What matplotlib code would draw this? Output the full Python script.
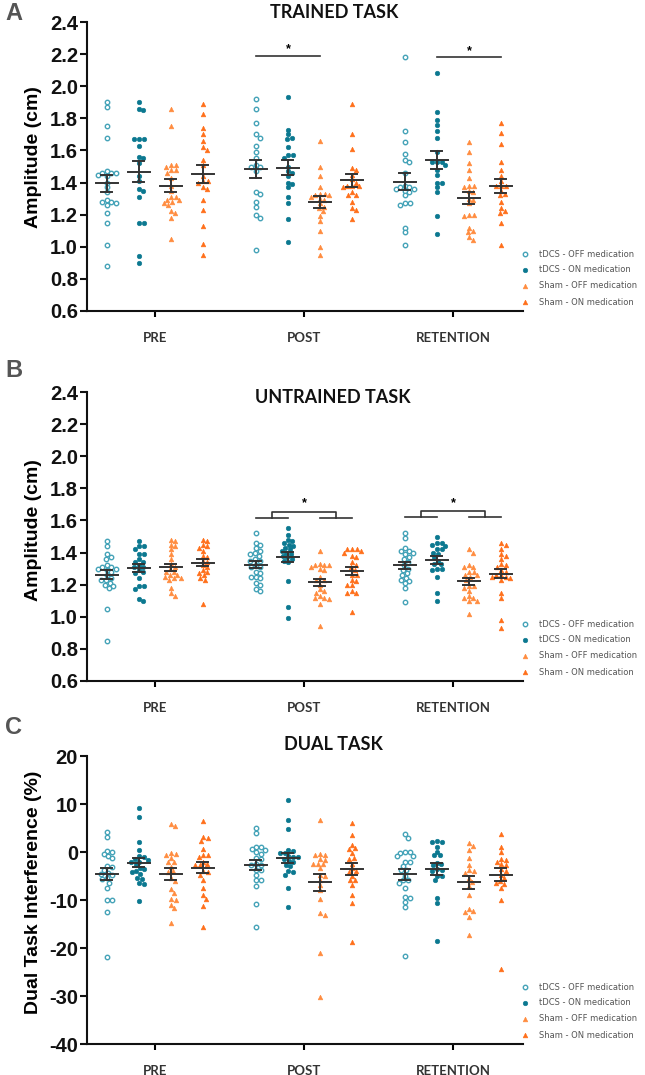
import numpy as np
import matplotlib
matplotlib.use("Agg")
import matplotlib.pyplot as plt

plt.rcParams['font.family'] = ['Liberation Sans', 'DejaVu Sans']

# groups / time points
groups = ['tDCS - OFF medication', 'tDCS - ON medication',
          'Sham - OFF medication', 'Sham - ON medication']
times = ['PRE', 'POST', 'RETENTION']

# A: trained task amplitude (cm), order: tDCS OFF, tDCS ON, Sham OFF, Sham ON
trained_pre = [
    [1.90, 1.87, 1.75, 1.68, 1.47, 1.46, 1.46, 1.46, 1.45, 1.44, 1.40, 1.37, 1.34, 1.29, 1.28, 1.28, 1.27, 1.26, 1.21, 1.15, 1.01, 0.88],
    [1.90, 1.86, 1.85, 1.67, 1.67, 1.67, 1.63, 1.56, 1.55, 1.52, 1.44, 1.41, 1.36, 1.35, 1.31, 1.15, 1.15, 0.94, 0.90],
    [1.86, 1.75, 1.51, 1.51, 1.50, 1.48, 1.48, 1.46, 1.43, 1.38, 1.35, 1.31, 1.31, 1.29, 1.29, 1.28, 1.27, 1.26, 1.22, 1.21, 1.18, 1.05],
    [1.89, 1.83, 1.74, 1.70, 1.66, 1.62, 1.60, 1.54, 1.51, 1.44, 1.41, 1.41, 1.40, 1.37, 1.36, 1.29, 1.23, 1.13, 1.02, 0.95],
]
trained_post = [
    [1.92, 1.86, 1.77, 1.70, 1.68, 1.63, 1.59, 1.55, 1.51, 1.50, 1.50, 1.47, 1.34, 1.33, 1.28, 1.25, 1.20, 1.18, 0.98],
    [1.93, 1.73, 1.70, 1.68, 1.67, 1.62, 1.57, 1.57, 1.55, 1.50, 1.47, 1.46, 1.44, 1.40, 1.39, 1.37, 1.31, 1.27, 1.17, 1.03],
    [1.66, 1.50, 1.44, 1.37, 1.33, 1.33, 1.32, 1.32, 1.31, 1.30, 1.29, 1.27, 1.25, 1.24, 1.22, 1.19, 1.16, 1.10, 1.00, 0.95],
    [1.89, 1.70, 1.61, 1.49, 1.48, 1.45, 1.42, 1.40, 1.38, 1.38, 1.38, 1.37, 1.34, 1.32, 1.32, 1.28, 1.24, 1.23, 1.17],
]
trained_ret = [
    [2.18, 1.72, 1.65, 1.58, 1.54, 1.53, 1.46, 1.38, 1.37, 1.37, 1.36, 1.36, 1.35, 1.34, 1.32, 1.27, 1.27, 1.26, 1.12, 1.09, 1.01],
    [2.08, 1.84, 1.79, 1.76, 1.72, 1.68, 1.59, 1.53, 1.53, 1.53, 1.51, 1.48, 1.45, 1.40, 1.40, 1.37, 1.34, 1.19, 1.08],
    [1.65, 1.59, 1.52, 1.48, 1.43, 1.38, 1.38, 1.37, 1.35, 1.34, 1.30, 1.29, 1.27, 1.20, 1.20, 1.19, 1.12, 1.10, 1.09, 1.06, 1.04],
    [1.77, 1.71, 1.64, 1.53, 1.48, 1.44, 1.41, 1.38, 1.38, 1.38, 1.35, 1.33, 1.32, 1.28, 1.24, 1.22, 1.21, 1.15, 1.01],
]

# B: untrained task amplitude (cm)
untrained_pre = [
    [1.47, 1.44, 1.39, 1.37, 1.36, 1.32, 1.31, 1.31, 1.30, 1.30, 1.29, 1.28, 1.26, 1.24, 1.23, 1.23, 1.21, 1.20, 1.19, 1.18, 1.05, 0.85],
    [1.47, 1.44, 1.44, 1.42, 1.39, 1.39, 1.36, 1.34, 1.34, 1.32, 1.31, 1.31, 1.29, 1.28, 1.27, 1.24, 1.19, 1.19, 1.17, 1.11, 1.10],
    [1.48, 1.47, 1.45, 1.44, 1.42, 1.39, 1.36, 1.33, 1.31, 1.30, 1.28, 1.28, 1.26, 1.26, 1.25, 1.24, 1.24, 1.23, 1.18, 1.15, 1.13],
    [1.48, 1.47, 1.45, 1.44, 1.43, 1.41, 1.38, 1.37, 1.35, 1.34, 1.32, 1.31, 1.29, 1.28, 1.27, 1.26, 1.24, 1.23, 1.08],
]
untrained_post = [
    [1.52, 1.46, 1.45, 1.43, 1.41, 1.40, 1.39, 1.38, 1.36, 1.35, 1.35, 1.32, 1.31, 1.31, 1.28, 1.27, 1.25, 1.25, 1.24, 1.21, 1.20, 1.17, 1.16],
    [1.55, 1.51, 1.48, 1.47, 1.46, 1.45, 1.44, 1.43, 1.42, 1.41, 1.40, 1.39, 1.38, 1.37, 1.36, 1.35, 1.34, 1.22, 1.06, 0.99],
    [1.41, 1.33, 1.32, 1.32, 1.32, 1.31, 1.30, 1.29, 1.25, 1.23, 1.23, 1.20, 1.17, 1.16, 1.15, 1.13, 1.12, 1.11, 1.12, 1.08, 0.94],
    [1.42, 1.42, 1.42, 1.41, 1.40, 1.38, 1.37, 1.34, 1.32, 1.31, 1.29, 1.26, 1.26, 1.23, 1.22, 1.20, 1.20, 1.16, 1.15, 1.15, 1.03],
]
untrained_ret = [
    [1.52, 1.49, 1.43, 1.41, 1.41, 1.40, 1.39, 1.37, 1.36, 1.34, 1.32, 1.30, 1.29, 1.27, 1.26, 1.24, 1.23, 1.22, 1.21, 1.18, 1.09],
    [1.50, 1.46, 1.46, 1.45, 1.44, 1.42, 1.42, 1.40, 1.39, 1.37, 1.35, 1.33, 1.33, 1.30, 1.30, 1.29, 1.25, 1.15, 1.10],
    [1.42, 1.40, 1.32, 1.31, 1.31, 1.28, 1.28, 1.26, 1.26, 1.25, 1.23, 1.19, 1.19, 1.18, 1.16, 1.13, 1.12, 1.12, 1.10, 1.10, 1.02],
    [1.46, 1.45, 1.42, 1.39, 1.38, 1.36, 1.33, 1.32, 1.31, 1.29, 1.28, 1.26, 1.26, 1.25, 1.25, 1.24, 1.23, 1.15, 1.12, 0.98, 0.93],
]

# C: dual task interference (%)
dual_pre = [
    [4.2, 3.2, 0.3, 0.1, -0.4, -0.8, -1.3, -3.0, -3.2, -3.8, -4.3, -4.6, -4.8, -5.5, -5.6, -6.4, -7.6, -10.1, -10.1, -12.4, -21.8],
    [9.1, 7.2, 2.1, 0.5, -0.9, -1.0, -1.5, -1.6, -2.0, -2.1, -2.7, -3.3, -3.5, -4.0, -4.2, -4.6, -5.4, -5.6, -6.5, -6.6, -10.3],
    [5.9, 5.5, -0.3, -0.4, -0.6, -1.3, -2.0, -2.1, -3.1, -4.0, -4.2, -5.5, -6.1, -7.8, -8.5, -9.7, -10.0, -11.0, -11.7, -14.7],
    [6.5, 3.1, 3.0, 2.2, 0.6, -0.6, -0.7, -1.1, -2.0, -2.6, -2.7, -2.8, -4.0, -4.2, -4.8, -5.8, -7.4, -9.0, -9.7, -11.2, -15.7],
]
dual_post = [
    [5.1, 4.0, 1.1, 1.0, 0.6, 0.5, -0.1, -0.4, -1.3, -1.4, -2.6, -2.7, -2.8, -3.7, -3.8, -4.8, -5.8, -5.9, -7.1, -10.8, -15.7],
    [10.8, 6.7, 4.7, 0.5, 0.3, -0.2, -0.3, -0.9, -1.0, -1.1, -1.5, -1.9, -2.1, -2.7, -3.0, -4.0, -4.2, -4.8, -7.6, -11.4],
    [6.7, -0.5, -0.6, -0.7, -1.5, -1.6, -2.4, -2.5, -2.6, -3.4, -4.7, -4.9, -5.8, -6.9, -7.9, -9.7, -12.8, -13.1, -21.0, -30.2],
    [6.1, 3.5, 1.5, 0.8, 0.7, -0.3, -1.2, -1.4, -2.4, -3.4, -4.0, -4.2, -5.0, -5.8, -5.9, -6.9, -9.0, -10.7, -18.7],
]
dual_ret = [
    [3.8, 3.0, 0.0, -0.1, -0.3, -0.8, -0.9, -2.0, -2.1, -2.9, -3.7, -3.8, -5.0, -5.8, -5.9, -6.5, -7.4, -9.4, -9.5, -10.4, -11.4, -21.6],
    [2.3, 2.1, 2.0, 1.1, 0.1, -0.6, -0.7, -2.2, -2.6, -2.8, -3.6, -3.7, -3.9, -4.9, -5.1, -5.8, -9.6, -10.7, -18.5],
    [1.9, 1.3, 0.4, -1.3, -2.7, -3.8, -4.0, -4.4, -5.5, -6.2, -7.1, -9.0, -11.9, -12.3, -12.5, -13.5, -17.3],
    [3.7, 1.1, -0.1, -1.5, -1.7, -2.0, -2.6, -2.8, -3.6, -3.9, -4.8, -5.5, -6.0, -6.4, -6.6, -7.6, -9.9, -24.3],
]

# marker styles per group
light_teal = '#45a3b8'
dark_teal = '#0b7890'
orange = '#ff6f1a'
light_orange = '#ff8c3f'
styles = [
    dict(marker='o', mfc='white', mec=light_teal, mew=1.0, ms=3.2),
    dict(marker='o', mfc=dark_teal, mec=dark_teal, mew=0.4, ms=3.3),
    dict(marker='^', mfc=light_orange, mec=light_orange, mew=0.4, ms=3.4),
    dict(marker='^', mfc=orange, mec=orange, mew=0.4, ms=3.4),
]
offsets = np.array([-1.5, -0.5, 0.5, 1.5]) * 0.2148
xlim = (-0.456, 2.470)


def swarm_x(ax, xc, vals, d=4.8):
    # beeswarm offsets, worked out in pixels
    px = ax.transData.transform(np.column_stack([np.full(len(vals), xc), vals]))
    ypix = px[:, 1]
    unit = ax.transData.transform((1, 0))[0] - ax.transData.transform((0, 0))[0]
    xs = np.zeros(len(vals))
    placed = []
    for i in np.argsort(-ypix):
        y = ypix[i]
        cands = [0.0]
        for (qx, qy) in placed:
            dy = y - qy
            if abs(dy) < d:
                dx = np.sqrt(d * d - dy * dy)
                cands += [qx + dx, qx - dx]
        cands.sort(key=abs)
        for c in cands:
            if all((c - qx) ** 2 + (y - qy) ** 2 >= d * d - 1e-6 for qx, qy in placed):
                xs[i] = c
                break
        placed.append((xs[i], y))
    return xc + xs / unit


def draw_panel(ax, data, ylim, yticks, fmt):
    ax.set_xlim(*xlim)
    ax.set_ylim(*ylim)
    for ti, grp in enumerate(data):
        for gi, vals in enumerate(grp):
            vals = np.asarray(vals, dtype=float)
            xc = ti + offsets[gi]
            xs = swarm_x(ax, xc, vals)
            ax.plot(xs, vals, ls='none', zorder=2, clip_on=False, **styles[gi])
            m = vals.mean()
            se = vals.std(ddof=1) / np.sqrt(len(vals))
            ax.plot([xc - 0.074, xc + 0.074], [m, m], color='#333333', lw=1.4, zorder=3)
            ax.plot([xc, xc], [m - se, m + se], color='#333333', lw=1.4, zorder=3)
            for e in (m - se, m + se):
                ax.plot([xc - 0.037, xc + 0.037], [e, e], color='#333333', lw=1.4, zorder=3)
    ax.set_yticks(yticks)
    ax.set_yticklabels([fmt % t for t in yticks], fontsize=14.5, fontweight='bold')
    ax.set_xticks(range(len(times)))
    ax.set_xticklabels(times, fontsize=9.5, fontweight='bold', family=['Lato', 'DejaVu Sans'],
                       color='#333333')
    ax.tick_params(axis='y', length=5, width=1.5, pad=1.5, colors='#111111')
    ax.tick_params(axis='x', length=4, width=1.5, pad=11)
    for s in ('top', 'right'):
        ax.spines[s].set_visible(False)
    for s in ('left', 'bottom'):
        ax.spines[s].set_linewidth(1.5)
        ax.spines[s].set_color('#111111')
    # legend on the right
    rows = [0.197, 0.143, 0.087, 0.031]
    for gi, g in enumerate(groups):
        ax.plot([1.0046], [rows[gi]], ls='none', transform=ax.transAxes, clip_on=False, **styles[gi])
        ax.text(1.036, rows[gi], g, transform=ax.transAxes, fontsize=6, va='center',
                color='#555555', family='DejaVu Sans')


def star_line(ax, x0, x1, y, ystar):
    ax.plot([x0, x1], [y, y], color='#333333', lw=1.2, clip_on=False)
    ax.text((x0 + x1) / 2, ystar, '*', ha='center', va='center', fontsize=9, fontweight='bold')


def bracket(ax, t, y_low, y_high, ystar):
    l0, l1 = t + offsets[0], t + offsets[1]
    r0, r1 = t + offsets[2], t + offsets[3]
    lm, rm = (l0 + l1) / 2, (r0 + r1) / 2
    kw = dict(color='#333333', lw=1.2, clip_on=False)
    ax.plot([l0, l1], [y_low, y_low], **kw)
    ax.plot([r0, r1], [y_low, y_low], **kw)
    ax.plot([lm, lm, rm, rm], [y_low, y_high, y_high, y_low], **kw)
    ax.text((lm + rm) / 2, ystar, '*', ha='center', va='center', fontsize=9, fontweight='bold')


fig = plt.figure(figsize=(6.45, 10.75), dpi=100)
W, H = 645.0, 1075.0


def add_axes(top, bottom):
    return fig.add_axes([87 / W, 1 - bottom / H, 436 / W, (bottom - top) / H])


amp_ticks = np.round(np.arange(0.6, 2.41, 0.2), 1)

axA = add_axes(22, 311)
draw_panel(axA, [trained_pre, trained_post, trained_ret], (0.6, 2.4), amp_ticks, '%.1f')
star_line(axA, 1 + offsets[0], 1 + offsets[2], 2.19, 2.23)
star_line(axA, 2 + offsets[1], 2 + offsets[3], 2.18, 2.22)

axB = add_axes(392, 681)
draw_panel(axB, [untrained_pre, untrained_post, untrained_ret], (0.6, 2.4), amp_ticks, '%.1f')
bracket(axB, 1, 1.615, 1.655, 1.71)
bracket(axB, 2, 1.62, 1.66, 1.71)

axC = add_axes(756, 1044)
draw_panel(axC, [dual_pre, dual_post, dual_ret], (-40, 20), np.arange(-40, 21, 10), '%d')

# y labels
ylab_kw = dict(rotation=90, ha='center', va='center', fontsize=14, fontweight='bold')
fig.text(34 / W, 1 - 157 / H, 'Amplitude (cm)', **ylab_kw)
fig.text(34 / W, 1 - 530 / H, 'Amplitude (cm)', **ylab_kw)
fig.text(34 / W, 1 - 892 / H, 'Dual Task Interference (%)', **ylab_kw)

# titles
title_kw = dict(ha='center', va='center', fontsize=13, fontweight='bold',
                family=['Lato', 'DejaVu Sans'], color='#111111')
fig.text(334 / W, 1 - 12 / H, 'TRAINED TASK', **title_kw)
fig.text(333 / W, 1 - 397 / H, 'UNTRAINED TASK', **title_kw)
fig.text(333 / W, 1 - 745 / H, 'DUAL TASK', **title_kw)

# panel letters
for lab, y in (('A', 14), ('B', 370), ('C', 728)):
    fig.text(14 / W, 1 - y / H, lab, ha='center', va='center', fontsize=17,
             fontweight='bold', color='#555555')

fig.savefig('out.png', dpi=100)
